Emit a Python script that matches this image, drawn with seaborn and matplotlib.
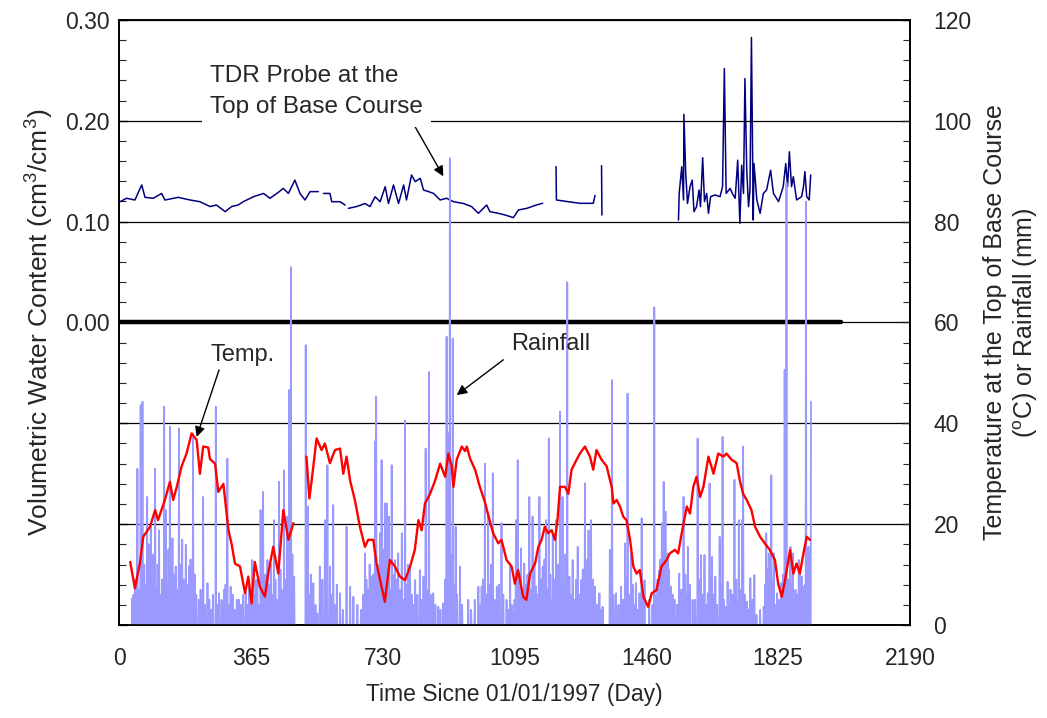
import numpy as np
import pandas as pd
import matplotlib
matplotlib.use("Agg")
import matplotlib.pyplot as plt
import seaborn as sns
from matplotlib.ticker import MultipleLocator, FuncFormatter

# ---------------- data ----------------
temp_days = [31, 35, 44, 58, 67, 86, 100, 108, 127, 141, 150, 160, 173, 187, 201, 215, 224, 233,
             247, 252, 266, 275, 289, 303, 312, 321, 335, 349, 358, 367, 376, 390, 404, 413, 427,
             441, 455, 469, 483,
             519, 527, 533, 547, 561, 570, 584, 598, 612, 621, 630, 640, 653, 667, 681, 690, 704,
             713, 727, 736, 750, 764, 778, 792, 806, 819, 829, 838, 847, 861, 875, 889, 903, 912,
             921, 926, 935, 949, 958, 963, 972, 986, 999, 1013, 1027, 1036, 1050, 1059, 1073,
             1087, 1096, 1105, 1119, 1128, 1138, 1152, 1161, 1170, 1179, 1188, 1198, 1207, 1214,
             1221, 1235, 1244, 1253, 1267, 1276, 1290, 1304, 1313, 1322, 1336, 1350, 1364, 1369,
             1378, 1387, 1396, 1405, 1415, 1424, 1433, 1442, 1452, 1465, 1475, 1488, 1502, 1516,
             1525, 1539, 1548, 1558, 1572, 1581, 1590, 1599, 1609, 1618, 1632, 1646, 1659, 1673,
             1682, 1696, 1710, 1719, 1728, 1738, 1751, 1761, 1775, 1788, 1802, 1816, 1825, 1835,
             1844, 1858, 1867, 1876, 1885, 1895, 1904, 1913]
temp_vals = [12.5, 10.9, 7.3, 12.3, 17.5, 19.5, 22.8, 20.8, 24.8, 28.4, 24.8, 27.4, 31.4, 34.0,
             38.0, 36.7, 30.0, 35.4, 35.2, 32.9, 32.0, 26.4, 28.0, 18.8, 16.0, 12.2, 11.6, 6.3,
             9.6, 4.3, 12.5, 7.6, 5.6, 10.2, 15.5, 10.2, 22.8, 16.9, 20.2,
             33.4, 25.1, 28.4, 37.0, 34.7, 36.0, 32.1, 34.7, 35.0, 30.0, 33.4, 28.6, 24.8, 19.5,
             15.5, 16.9, 16.9, 12.2, 7.6, 4.6, 12.9, 11.6, 9.6, 8.9, 11.6, 14.9, 20.8, 18.8, 24.1,
             26.0, 28.6, 32.0, 29.4, 34.0, 31.5, 27.4, 32.8, 35.4, 34.5, 35.4, 33.0, 30.8, 27.4,
             24.4, 20.5, 18.2, 16.2, 16.9, 12.9, 11.6, 8.2, 10.9, 5.6, 5.0, 10.2, 12.2, 15.5,
             16.9, 19.5, 18.2, 18.8, 16.9, 20.8, 27.4, 27.4, 26.0, 30.8, 32.8, 34.0, 35.4, 33.4,
             30.8, 34.7, 32.8, 31.5, 27.4, 24.1, 24.8, 23.5, 21.5, 20.8, 16.9, 11.6, 10.2, 10.9,
             5.6, 3.6, 6.3, 6.9, 11.6, 12.9, 14.2, 14.9, 14.2, 18.2, 23.5, 22.1, 27.4, 29.4, 25.4,
             27.4, 33.4, 30.0, 34.0, 33.4, 34.0, 32.8, 32.1, 28.6, 26.0, 24.8, 22.8, 19.5, 17.5,
             16.2, 14.9, 12.9, 8.2, 5.6, 8.9, 14.9, 10.2, 12.2, 10.2, 14.2, 17.5, 16.9]
temp_breaks = [500]

vwc_days = [3, 21, 44, 63, 72, 95, 118, 127, 164, 197, 224, 252, 270, 294, 312, 330, 344, 372,
            400, 418, 437, 455, 469, 487, 501, 515, 529, 552,
            566, 584, 589, 612, 626,
            635, 658, 681, 695, 709, 723, 737, 746, 760, 774, 788, 796, 810, 820, 834, 843, 857,
            871, 889, 907, 926, 954, 976, 995, 1018, 1027, 1050, 1069, 1092, 1106, 1129, 1156, 1173,
            1210, 1211, 1240, 1276, 1313, 1318,
            1336, 1337,
            1549, 1551, 1558, 1563, 1564, 1569, 1574, 1581, 1587, 1592, 1599, 1606, 1610, 1616,
            1621, 1627, 1632, 1638, 1650, 1664, 1671, 1676, 1681, 1692, 1698, 1706, 1713, 1719,
            1724, 1729, 1733, 1738, 1743, 1747, 1751, 1754, 1756, 1758, 1766, 1775, 1784, 1793,
            1804, 1812, 1826, 1839, 1846, 1851, 1856, 1862, 1867, 1876, 1890, 1895, 1899, 1904,
            1911, 1915]
vwc_vals = [0.1198, 0.1232, 0.1215, 0.1364, 0.1241, 0.1232, 0.128, 0.1215, 0.1241, 0.1215, 0.1198,
            0.115, 0.1165, 0.1099, 0.115, 0.1165, 0.1198, 0.1247, 0.128, 0.1232, 0.128, 0.133,
            0.128, 0.1412, 0.128, 0.1215, 0.1298, 0.1298,
            0.128, 0.128, 0.1198, 0.1198, 0.1165,
            0.1132, 0.115, 0.118, 0.115, 0.1247, 0.1198, 0.1347, 0.118, 0.1364, 0.118, 0.1364,
            0.1215, 0.1463, 0.1397, 0.143, 0.1314, 0.1298, 0.128, 0.1215, 0.1232, 0.1198, 0.118,
            0.115, 0.1083, 0.1165, 0.1099, 0.1083, 0.1066, 0.104, 0.1116, 0.1132, 0.1166, 0.1182,
            0.1545, 0.1215, 0.120, 0.1182, 0.1182, 0.126,
            0.1555, 0.1066,
            0.1016, 0.128, 0.1545, 0.1215, 0.2064, 0.1479, 0.118, 0.1347, 0.1413, 0.1099, 0.1149,
            0.1314, 0.1149, 0.1634, 0.1199, 0.128, 0.1083, 0.1248, 0.1265, 0.1248, 0.1347, 0.2519,
            0.128, 0.133, 0.128, 0.1232, 0.161, 0.0984, 0.156, 0.128, 0.2419, 0.151, 0.1149,
            0.1314, 0.2827, 0.1743, 0.1016, 0.1577, 0.1215, 0.1083, 0.128, 0.1314, 0.151, 0.128,
            0.1199, 0.1347, 0.1577, 0.1347, 0.1693, 0.1347, 0.1446, 0.1215, 0.1248, 0.1347,
            0.1496, 0.1248, 0.1215, 0.1463]
vwc_breaks = [560, 630, 1190, 1327, 1440]

# larger daily rainfall events
rain_days = [37, 51, 60, 65, 78, 88, 100, 111, 125, 129, 141, 148, 157, 166, 175, 185, 194, 205,
             221, 233, 245, 268, 277, 291, 300, 309, 332, 351, 369, 378, 392, 399, 411, 429, 443,
             457, 466, 471, 476, 485,
             517, 523, 538, 549, 556, 570, 577, 584, 593, 612, 630, 640, 649, 681, 690, 700, 709,
             712, 723, 727, 736, 741, 747, 755, 764, 773, 783, 792, 806, 820, 833, 843, 849, 858,
             870, 884, 898, 907, 912, 916, 924, 932, 944, 967, 995, 1004, 1013, 1022, 1035, 1046,
             1059, 1073, 1083, 1092,
             1099, 1104, 1113, 1122, 1136, 1145, 1155, 1164, 1173, 1182, 1190, 1201, 1210, 1221,
             1228, 1241, 1247, 1256, 1270, 1279, 1290, 1300, 1307, 1318, 1330, 1339, 1359, 1365,
             1376, 1390, 1401, 1408, 1418, 1431, 1441, 1447, 1455, 1468, 1482, 1496, 1503, 1508,
             1513, 1519, 1528, 1538, 1551, 1563, 1575, 1588, 1602, 1611, 1621, 1630,
             1635, 1642, 1651, 1663, 1671, 1679, 1685, 1693, 1704, 1716, 1725, 1728, 1739, 1748,
             1759, 1785, 1792, 1799, 1806, 1813, 1822, 1833, 1843, 1848, 1859, 1866, 1873, 1882,
             1891, 1896, 1902, 1909, 1916]
rain_mm = [5.3, 31, 43.6, 44.3, 25.4, 19.5, 31, 18.8, 43.3, 22.8, 39.3, 17.2, 11.6, 39, 16.9, 15.9,
           11.6, 38, 5, 25.4, 8.3, 43.3, 6.3, 7, 33, 7.6, 5, 6.3, 12.9, 8.9, 22.8, 26.4, 12.9, 20.8,
           28.4, 30.7, 21.5, 46.6, 71, 9.6,
           55.5, 23.5, 8.3, 2.3, 11.6, 20.8, 31.7, 11.6, 23.8, 6.3, 19.5, 7.6, 5.6, 14.2, 7, 9.6,
           36.4, 45.3, 18.2, 32.7, 24.1, 24.1, 21.5, 31.7, 12.9, 14.2, 18.2, 40.6, 11.6, 8.9, 10.9,
           9.6, 35, 50.2, 6.3, 3.6, 4.3, 57.2, 38, 92.6, 56.8, 19.5, 11.6, 5, 7.6, 7.6, 32, 22.1,
           30.1, 7.6, 20.2, 5, 11.6, 2.3,
           20.8, 32.7, 15.2, 12.2, 25.4, 21.5, 7.6, 25.4, 11.6, 20.8, 37, 18.2, 20.8, 42.3, 25.4,
           68, 9.6, 12.9, 15.5, 8.9, 28.1, 18.8, 20.8, 7.6, 6.3, 3.6, 14.9, 48.6, 6.3, 7.6, 16.2,
           45.9, 14.2, 8.3, 6.3, 21.2, 8.9, 5, 63, 10.9, 20.2, 28.4, 22.5, 14.2, 7.6, 5, 10.2, 25.4,
           15.5, 5, 37, 13.9, 13.9, 6.3,
           28.1, 13.5, 9.6, 17.5, 37.3, 3.6, 8.6, 7, 28.8, 20.8, 20.8, 35.4, 4.6, 9.3, 9.9, 3.6,
           18.2, 14.2, 29.7, 14.2, 6.3, 8.3, 50.6, 87.7, 15.5, 14.2, 7, 12.9, 9.6, 7.6, 84, 15.5,
           44.3]

# smaller daily rainfall events (estimated from the dense low bars)
rain_small_days = [40, 44, 47, 55, 70, 74, 82, 92, 95, 104, 107, 115, 119, 133, 137, 145, 152, 161,
                   170, 179, 182, 189, 198, 201, 210, 214, 226, 238, 250, 255, 260, 272, 284, 295,
                   305, 315, 320, 326, 338, 344, 356, 360, 364, 373, 383, 387, 395, 404, 407, 416,
                   420, 424, 433, 437, 447, 450, 461, 480,
                   527, 531, 544, 560, 563, 574, 588, 597, 603, 620, 660, 670, 676, 685, 694, 697,
                   704, 716, 719, 731, 733, 744, 751, 758, 761, 768, 777, 787, 797, 800, 811, 815,
                   826, 838, 853, 863, 876, 890, 903, 920, 928, 936, 950, 975, 985, 1000, 1008,
                   1017, 1026, 1030, 1040, 1052, 1064, 1078, 1087,
                   1095, 1108, 1117, 1127, 1131, 1140, 1150, 1159, 1168, 1178, 1186, 1194, 1197,
                   1205, 1215, 1218, 1232, 1236, 1251, 1262, 1266, 1275, 1284, 1294, 1297, 1304,
                   1312, 1323, 1334, 1362, 1369, 1383, 1395, 1405, 1413, 1422, 1426, 1436, 1450,
                   1477, 1487, 1491, 1499, 1506, 1511, 1516, 1523, 1533, 1545, 1557, 1568, 1572,
                   1580, 1595, 1606, 1615, 1625,
                   1638, 1646, 1656, 1667, 1675, 1689, 1698, 1709, 1712, 1720, 1733, 1744, 1753,
                   1765, 1775, 1789, 1795, 1802, 1809, 1817, 1827, 1838, 1852, 1855, 1862, 1870,
                   1878, 1886, 1893, 1899, 1906, 1912]
rain_small_mm = [6, 9, 4, 7, 12, 8, 16, 10, 14, 7, 12, 6, 9, 8, 15, 6, 10, 7,
                 12, 9, 6, 8, 13, 7, 10, 6, 7, 4, 5, 3, 6, 4, 5, 8,
                 4, 6, 3, 5, 4, 6, 4, 8, 5, 6, 9, 4, 7, 10, 5, 8,
                 12, 6, 9, 5, 11, 7, 9, 14,
                 6, 10, 4, 5, 9, 7, 6, 4, 8, 3, 4, 3, 6, 9, 12, 5,
                 10, 12, 8, 15, 9, 11, 7, 10, 6, 9, 7, 5, 8, 12, 6, 4,
                 6, 5, 7, 6, 4, 3, 9, 14, 8, 6, 4, 3, 5, 4, 9,
                 6, 8, 12, 5, 8, 6, 3, 4,
                 5, 9, 6, 8, 10, 7, 12, 6, 9, 13, 7, 10, 5,
                 9, 12, 6, 8, 14, 6, 5, 9, 6, 11, 8, 13, 6,
                 9, 4, 3, 10, 6, 4, 5, 9, 6, 8, 4, 3, 5,
                 4, 6, 9, 13, 16, 10, 8, 11, 6, 4, 7, 10, 6,
                 8, 5, 9, 6, 4,
                 10, 6, 4, 8, 5, 4, 6, 9, 5, 7, 6, 3, 5,
                 2, 3, 8, 11, 6, 9, 4, 5, 10, 9, 6, 8, 4,
                 6, 10, 5, 8, 11, 6]

rain_first_day, rain_last_day = 30, 1916
rain_gap = (488, 515)

zero_line_days = [0, 2000]
zero_line_vals = [0.0, 0.0]

x_ticks = [0, 365, 730, 1095, 1460, 1825, 2190]

# ---------------- frames ----------------
def seg_frame(days, vals, breaks):
    d = np.asarray(days, float)
    return pd.DataFrame({"day": d, "val": vals, "seg": np.searchsorted(breaks, d)})

temp_df = seg_frame(temp_days, temp_vals, temp_breaks)
vwc_df = seg_frame(vwc_days, vwc_vals, vwc_breaks)

events = pd.concat([pd.Series(rain_small_mm, index=rain_small_days, dtype=float),
                    pd.Series(rain_mm, index=rain_days, dtype=float)])
events = events.groupby(level=0).max()
all_days = np.arange(rain_first_day, rain_last_day + 1)
rain_series = events.reindex(all_days, fill_value=0.0)
keep = (all_days < rain_gap[0]) | (all_days > rain_gap[1])
rain_df = pd.DataFrame({"day": all_days[keep], "val": rain_series.values[keep],
                        "seg": (all_days[keep] > rain_gap[1]).astype(int)})
zero_df = pd.DataFrame({"day": zero_line_days, "val": zero_line_vals})

# ---------------- style ----------------
sns.set_style("white")
plt.rcParams["font.family"] = ["Liberation Sans", "DejaVu Sans"]
plt.rcParams["mathtext.fontset"] = "custom"
plt.rcParams["mathtext.rm"] = "Liberation Sans"
plt.rcParams["mathtext.it"] = "Liberation Sans"

TICK_FS = 16.5

fig = plt.figure(figsize=(10.47, 7.18), dpi=100)
ax = fig.add_axes([119 / 1047, 1 - 625 / 718, (910 - 119) / 1047, (625 - 20) / 718])
ax2 = ax.twinx()

# VWC on the left axis
sns.lineplot(data=zero_df, x="day", y="val", color="black", lw=3.2, ax=ax, legend=False)
sns.lineplot(data=vwc_df, x="day", y="val", units="seg", estimator=None, sort=False,
             color="#000080", lw=1.1, ax=ax, legend=False)

# temperature and rain on the right axis
sns.lineplot(data=rain_df, x="day", y="val", units="seg", estimator=None, sort=False,
             color="#9999FF", lw=1.3, ax=ax2, legend=False)
sns.lineplot(data=temp_df, x="day", y="val", units="seg", estimator=None, sort=False,
             color="#FF0000", lw=1.7, ax=ax2, legend=False)

ax.set_xlim(0, 2190)
ax.set_ylim(-0.3, 0.3)
ax2.set_ylim(0, 120)
ax.set_xticks(x_ticks)
ax.set_xticklabels([str(t) for t in x_ticks])

ax.yaxis.set_major_locator(MultipleLocator(0.1))
ax.yaxis.set_minor_locator(MultipleLocator(0.02))
ax.yaxis.set_major_formatter(FuncFormatter(lambda v, p: f"{v:.2f}" if v > -0.005 else ""))
ax2.yaxis.set_major_locator(MultipleLocator(20))
ax2.yaxis.set_minor_locator(MultipleLocator(4))

ax.tick_params(axis="x", direction="out", length=8, width=1, labelsize=TICK_FS, pad=8,
               top=False)
ax.tick_params(axis="y", which="major", direction="in", length=6, width=1, labelsize=TICK_FS,
               pad=7)
ax.tick_params(axis="y", which="minor", direction="in", length=5, width=0.8)
ax2.tick_params(axis="y", which="major", direction="in", length=6, width=1, labelsize=TICK_FS,
                pad=17)
ax2.tick_params(axis="y", which="minor", direction="in", length=5, width=0.8)

ax2.grid(axis="y", which="major", color="black", lw=0.9)
ax2.set_axisbelow(True)
for a in (ax, ax2):
    for s in a.spines.values():
        s.set_color("black")
        s.set_linewidth(1.2)

ax.set_xlabel("Time Sicne 01/01/1997 (Day)", fontsize=16.5, labelpad=9)
ax.set_ylabel("Volumetric Water Content (cm$^3$/cm$^3$)", fontsize=19, labelpad=6)
ax2.set_ylabel("Temperature at the Top of Base Course\n($^{\\rm o}$C) or Rainfall (mm)",
               fontsize=18, labelpad=8, linespacing=1.2)

ann_kw = dict(arrowstyle="-|>", color="black", lw=1.0, mutation_scale=15, shrinkA=0, shrinkB=0)
ax2.text(252, 105.8, "TDR Probe at the\nTop of Base Course", fontsize=17.5, ha="left",
         va="center", linespacing=1.55, zorder=5,
         bbox=dict(facecolor="white", edgecolor="none", pad=6))
ax2.annotate("", xy=(898, 89), xytext=(820, 98.8), arrowprops=ann_kw)
ax2.text(253, 53.6, "Temp.", fontsize=17, ha="left", va="center")
ax2.annotate("", xy=(215, 37.3), xytext=(277, 50.6), arrowprops=ann_kw)
ax2.text(1085, 55.8, "Rainfall", fontsize=17, ha="left", va="center")
ax2.annotate("", xy=(935, 45.6), xytext=(1064, 52.6), arrowprops=ann_kw)

fig.savefig("out.png", dpi=100)
